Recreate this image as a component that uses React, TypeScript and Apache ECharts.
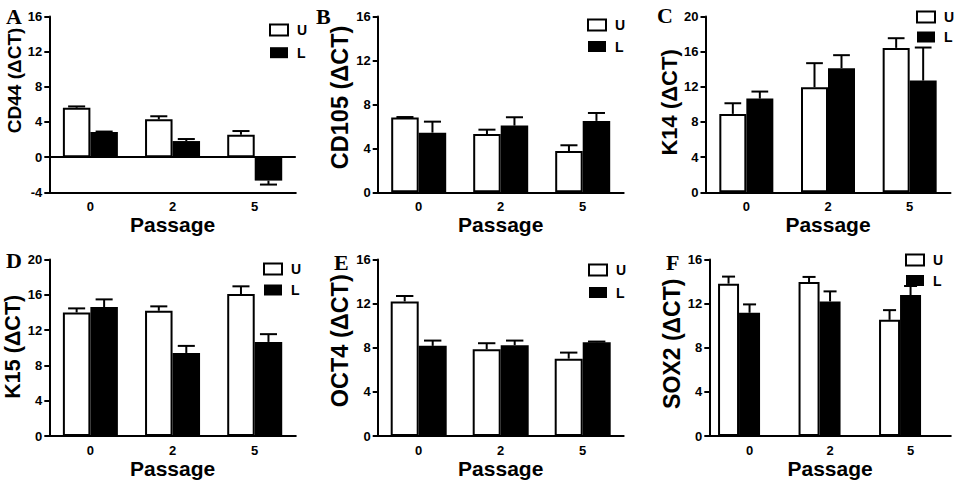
import React, { useEffect, useRef } from 'react';
import * as echarts from 'echarts';

// ---- data ----
const categories = ['0', '2', '5'];
const panelLetters = ['A', 'B', 'C', 'D', 'E', 'F'];
const geneNames = ['CD44', 'CD105', 'K14', 'K15', 'OCT4', 'SOX2'];
const legendNames = ['U', 'L'];

const cd44U = [5.62, 4.3, 2.55];
const cd44UErr = [0.15, 0.35, 0.42];
const cd44L = [2.86, 1.83, -2.67];
const cd44LErr = [0.05, 0.23, 0.45];

const cd105U = [6.8, 5.3, 3.76];
const cd105UErr = [0.05, 0.4, 0.52];
const cd105L = [5.43, 6.07, 6.5];
const cd105LErr = [1.0, 0.76, 0.72];

const k14U = [8.92, 11.95, 16.43];
const k14UErr = [1.21, 2.74, 1.1];
const k14L = [10.66, 14.12, 12.71];
const k14LErr = [0.8, 1.48, 3.76];

const k15U = [14.0, 14.19, 16.09];
const k15UErr = [0.46, 0.5, 0.87];
const k15L = [14.61, 9.41, 10.66];
const k15LErr = [0.87, 0.8, 0.88];

const oct4U = [12.2, 7.86, 7.01];
const oct4UErr = [0.49, 0.55, 0.55];
const oct4L = [8.17, 8.23, 8.5];
const oct4LErr = [0.48, 0.42, 0.06];

const sox2U = [13.81, 13.96, 10.53];
const sox2UErr = [0.64, 0.46, 0.88];
const sox2L = [11.17, 12.2, 12.78];
const sox2LErr = [0.76, 0.91, 0.82];

const yMins = [-4, 0, 0, 0, 0, 0];
const yMaxs = [16, 16, 20, 20, 16, 16];
const yInterval = 4;

const seriesU = [cd44U, cd105U, k14U, k15U, oct4U, sox2U];
const seriesUErr = [cd44UErr, cd105UErr, k14UErr, k15UErr, oct4UErr, sox2UErr];
const seriesL = [cd44L, cd105L, k14L, k15L, oct4L, sox2L];
const seriesLErr = [cd44LErr, cd105LErr, k14LErr, k15LErr, oct4LErr, sox2LErr];

// ---- layout (positions/styles only) ----
const FONT = '"Liberation Sans", Arial, Helvetica, sans-serif';
const SERIF = '"Liberation Serif", "Times New Roman", serif';

const layouts = [
  { left: 49.3, top: 16.5, width: 246.5, height: 175.8, bw: 27.5, pad: false, nameSize: 19, nameShift: 24, lg: [269, 23, 8.7], letter: [6, 5] },
  { left: 377.7, top: 16.5, width: 246, height: 175.8, bw: 27.5, pad: false, nameSize: 23.5, nameShift: 7, lg: [587, 18, 7.5], letter: [316, 5] },
  { left: 705.5, top: 16.5, width: 245, height: 175.8, bw: 27, pad: false, nameSize: 22, nameShift: 2, lg: [916, 10, 6], letter: [657, 4] },
  { left: 49.3, top: 259.5, width: 246.5, height: 176.5, bw: 27.5, pad: false, nameSize: 21.5, nameShift: 1, lg: [263, 262, 7], letter: [6, 249] },
  { left: 377.7, top: 259.5, width: 246, height: 176.5, bw: 28, pad: false, nameSize: 23.5, nameShift: 7, lg: [588, 263, 8.5], letter: [334, 251] },
  { left: 709.3, top: 259.5, width: 241.5, height: 176.5, bw: 21, pad: true, nameSize: 23, nameShift: 4, lg: [905, 253, 6.5], letter: [666, 251] },
];

const BLACK = '#000';

function errorSeries(i: number, vals: number[], errs: number[], offset: number, cw: number) {
  return {
    type: 'custom',
    xAxisIndex: i,
    yAxisIndex: i,
    silent: true,
    z: 4,
    encode: { x: 0, y: 1 },
    data: vals.map((v, k) => [k, v, errs[k]]),
    renderItem: (_params: any, api: any) => {
      const k = api.value(0);
      const v = api.value(1);
      const e = api.value(2);
      const top = api.coord([k, v]);
      const end = api.coord([k, v + (v < 0 ? -e : e)]);
      const x = top[0] + offset;
      return {
        type: 'group',
        children: [
          { type: 'line', shape: { x1: x, y1: top[1], x2: x, y2: end[1] }, style: { stroke: BLACK, lineWidth: 2 } },
          { type: 'line', shape: { x1: x - cw / 2, y1: end[1], x2: x + cw / 2, y2: end[1] }, style: { stroke: BLACK, lineWidth: 2 } },
        ],
      };
    },
  };
}

function buildOption() {
  const grid: any[] = [];
  const xAxis: any[] = [];
  const yAxis: any[] = [];
  const series: any[] = [];
  const legend: any[] = [];
  const graphic: any[] = [];

  geneNames.forEach((gene, i) => {
    const L = layouts[i];
    grid.push({ left: L.left, top: L.top, width: L.width, height: L.height });
    xAxis.push({
      type: 'category',
      gridIndex: i,
      data: categories,
      axisLine: { onZero: false, lineStyle: { color: BLACK, width: 2 } },
      axisTick: { show: false },
      axisLabel: { color: BLACK, fontWeight: 'bold', fontSize: 13, fontFamily: FONT, margin: 8 },
      name: 'Passage',
      nameLocation: 'middle',
      nameGap: 22,
      nameTextStyle: { color: BLACK, fontWeight: 'bold', fontSize: 21, fontFamily: FONT },
    });
    yAxis.push({
      type: 'value',
      gridIndex: i,
      min: yMins[i],
      max: yMaxs[i],
      interval: yInterval,
      splitLine: { show: false },
      axisLine: { show: true, onZero: false, lineStyle: { color: BLACK, width: 2 } },
      axisTick: { show: true, length: 5, lineStyle: { color: BLACK, width: 2 } },
      axisLabel: { color: BLACK, fontWeight: 'bold', fontSize: 13, fontFamily: FONT, margin: 7 },
      name: gene + ' (ΔCT)',
      nameLocation: 'middle',
      nameGap: 23,
      nameTextStyle: {
        color: BLACK,
        fontWeight: 'bold',
        fontSize: L.nameSize,
        fontFamily: FONT,
        padding: [0, 0, 0, L.nameShift * 2],
      },
    });
    const uSeries: any = {
      type: 'bar',
      name: legendNames[0],
      xAxisIndex: i,
      yAxisIndex: i,
      data: seriesU[i],
      barWidth: L.bw,
      barGap: '0%',
      itemStyle: { color: '#fff', borderColor: BLACK, borderWidth: 2 },
      z: 2,
    };
    if (yMins[i] < 0) {
      uSeries.markLine = {
        silent: true,
        symbol: ['none', 'none'],
        label: { show: false },
        lineStyle: { color: BLACK, width: 2, type: 'solid' },
        data: [{ yAxis: 0 }],
        z: 5,
      };
    }
    series.push(uSeries);
    series.push({
      type: 'bar',
      name: legendNames[1],
      xAxisIndex: i,
      yAxisIndex: i,
      data: seriesL[i],
      barWidth: L.bw,
      barGap: '0%',
      itemStyle: { color: BLACK },
      z: 2,
    });
    if (L.pad) {
      series.push({
        type: 'bar',
        name: 'spacer',
        xAxisIndex: i,
        yAxisIndex: i,
        data: categories.map(() => 0),
        barWidth: L.bw,
        barGap: '0%',
        itemStyle: { color: 'rgba(0,0,0,0)' },
        silent: true,
      });
    }
    const offU = L.pad ? -L.bw : -L.bw / 2;
    const offL = L.pad ? 0 : L.bw / 2;
    const cw = L.bw * 0.62;
    series.push(errorSeries(i, seriesU[i], seriesUErr[i], offU, cw));
    series.push(errorSeries(i, seriesL[i], seriesLErr[i], offL, cw));

    legend.push({
      left: L.lg[0],
      top: L.lg[1],
      padding: 0,
      orient: 'vertical',
      itemWidth: 18,
      itemHeight: 11,
      itemGap: L.lg[2],
      selectedMode: false,
      data: [
        { name: legendNames[0], icon: 'rect', itemStyle: { color: '#fff', borderColor: BLACK, borderWidth: 2 } },
        { name: legendNames[1], icon: 'rect', itemStyle: { color: BLACK, borderWidth: 0 } },
      ],
      textStyle: { color: BLACK, fontWeight: 'bold', fontSize: 14, fontFamily: FONT, lineHeight: 11, padding: [0, 0, 0, 4] },
    });

    graphic.push({
      type: 'text',
      left: L.letter[0],
      top: L.letter[1],
      style: { text: panelLetters[i], fill: BLACK, font: 'bold 22px ' + SERIF },
    });
  });

  return { animation: false, backgroundColor: '#fff', grid, xAxis, yAxis, series, legend, graphic };
}

export default function App() {
  const ref = useRef<HTMLDivElement>(null);
  useEffect(() => {
    if (!ref.current) return;
    const chart = echarts.init(ref.current, undefined, { renderer: 'svg' });
    chart.setOption(buildOption() as any);
    return () => chart.dispose();
  }, []);
  return (
    <div
      ref={ref}
      style={{ position: 'fixed', left: 0, top: 0, width: 957, height: 486, background: '#fff' }}
    />
  );
}
